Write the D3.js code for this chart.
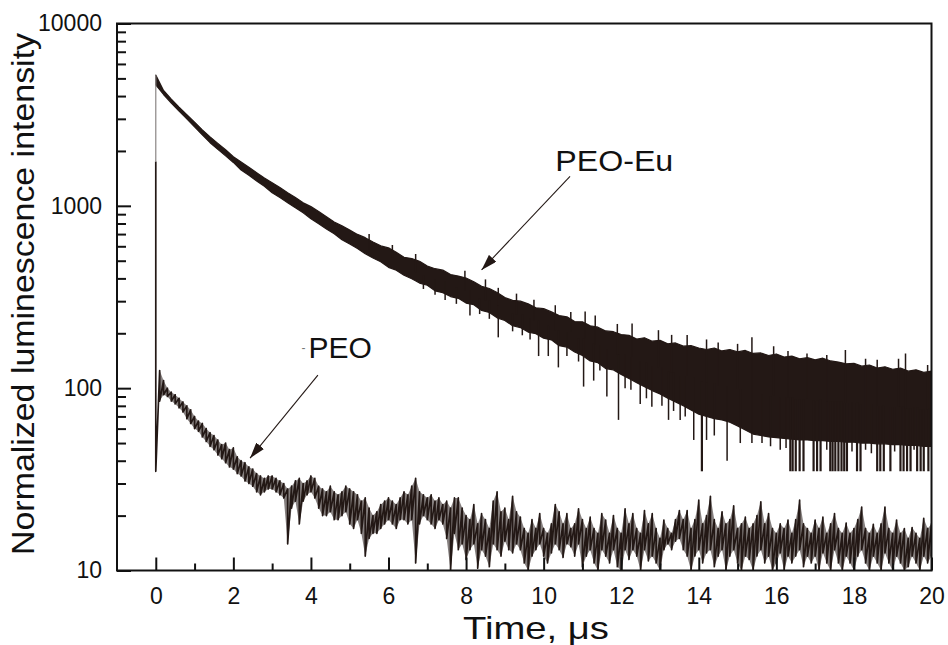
<!DOCTYPE html>
<html>
<head>
<meta charset="utf-8">
<script src="https://cdn.jsdelivr.net/npm/d3@7"></script>
<style>
  html, body { margin: 0; padding: 0; background: #fff; }
  svg { display: block; font-family: Arial, 'Liberation Sans', sans-serif; }
  .tick text { font-size: 23px; fill: #111; }
  .tick line { stroke: #111; stroke-width: 2; }
  .title { font-size: 32px; fill: #111; }
  .note { font-size: 30px; fill: #111; }
</style>
</head>
<body>
<svg id="chart" width="948" height="645"></svg>
<script>
'use strict';

// Time grid steps (µs) of the sampled envelopes below.
const EU_STEP = 0.2;
const PEO_STEP = 0.1;

// PEO-Eu decay: upper / lower edge of the dense trace, every 0.2 µs from 0 to 20.
const euHi = [
  5220, 4290, 3850, 3480, 3160, 2880, 2610, 2390, 2200, 2030,
  1860, 1740, 1630, 1520, 1420, 1340, 1260, 1180, 1110, 1040,
  990, 930, 870, 816, 777, 736, 697, 669, 634, 603,
  588, 556, 522, 514, 497, 468, 452, 444, 420, 412,
  402, 383, 362, 352, 335, 314, 303, 300, 290, 276,
  273, 262, 250, 246, 232, 231, 220, 216, 206, 204,
  197, 195, 186, 189, 181, 183, 175, 177, 170, 171,
  166, 163, 166, 160, 163, 158, 161, 155, 156, 151,
  154, 148, 150, 145, 147, 143, 146, 141, 139, 136,
  137, 132, 134, 129, 131, 127, 129, 124, 126, 122,
  124,
];
const euLo = [
  4600, 4080, 3660, 3310, 3000, 2710, 2450, 2220, 2040, 1880,
  1730, 1570, 1470, 1370, 1280, 1180, 1110, 1040, 977, 915,
  850, 797, 747, 702, 652, 617, 584, 546, 518, 493,
  460, 444, 416, 398, 377, 367, 342, 334, 318, 311,
  293, 287, 267, 260, 243, 235, 220, 215, 203, 199,
  188, 184, 171, 168, 158, 151, 141, 138, 128, 126,
  119, 113, 107, 102, 97, 93, 88, 84, 80, 76,
  72, 70, 68, 67, 65, 62, 59, 56, 55, 54,
  53.5, 53, 52.5, 52, 52, 51.5, 51.5, 51, 51, 50.5,
  50.5, 50, 50, 49.5, 49.5, 49, 49, 48.5, 48.5, 48,
  48,
];
// Single-sample dips and peaks sticking out of the PEO-Eu band: [t µs, value].
const euDips = [
  [6.9, 350], [7.2, 325], [7.46, 304], [7.75, 290], [8.1, 250], [8.35, 255],
  [8.6, 240], [8.83, 190], [9.2, 205], [9.45, 195], [9.65, 185], [9.87, 150],
  [10.12, 150], [10.38, 130], [10.6, 150], [10.9, 140], [11.03, 102], [11.29, 110],
  [11.45, 125], [11.63, 90], [11.93, 67], [12.1, 100], [12.25, 98], [12.49, 82],
  [12.65, 88], [12.79, 79], [13.05, 80], [13.22, 67], [13.35, 75], [13.52, 67],
  [13.65, 70], [13.87, 52], [14.08, 35], [14.2, 52], [14.4, 55], [14.73, 40],
  [15.07, 50], [15.37, 50], [15.63, 50], [15.85, 48], [16.1, 46], [16.25, 47],
  [16.36, 35], [16.42, 35], [16.5, 35], [16.6, 35], [16.7, 35], [16.96, 35],
  [17.05, 35], [17.14, 35], [17.3, 46], [17.39, 35], [17.45, 35], [17.52, 35],
  [17.6, 35], [17.68, 35], [17.75, 35], [17.82, 35], [17.95, 45], [18.08, 35],
  [18.17, 35], [18.3, 46], [18.45, 44], [18.6, 35], [18.68, 35], [18.77, 35],
  [18.94, 35], [19.05, 45], [19.2, 35], [19.28, 35], [19.37, 35], [19.46, 35],
  [19.55, 46], [19.63, 35], [19.72, 35], [19.8, 35], [19.92, 35],
];
const euPeaks = [
  [5.5, 700], [6.1, 610], [6.7, 545], [7.97, 440], [8.5, 395], [8.83, 355],
  [9.3, 330], [9.75, 305], [10.3, 285], [10.7, 262], [11.07, 263], [11.33, 250],
  [11.9, 225], [12.28, 226], [12.96, 208], [13.3, 196], [13.7, 196], [14.2, 185],
  [14.5, 178], [15.0, 175], [15.37, 190], [15.93, 170], [16.3, 160], [16.79, 155],
  [17.3, 152], [17.78, 162], [18.3, 145], [18.6, 143], [19.15, 145], [19.33, 155],
  [19.9, 134],
];
// Excitation pulse at t = 0 (thin grey line above the PEO spike).
const euPulse = [0, 1750, 5200];

// PEO decay: upper / lower value of the noisy trace, every 0.1 µs from 0 to 20.
const peoHi = [
  1750,
  125, 110, 100, 95, 92, 88, 84, 80, 76, 70,
  66, 64, 60, 57, 55, 52, 49, 50, 46, 47,
  42, 40, 39, 37, 36, 34, 33, 32, 33, 33,
  32, 31, 30, 28, 29, 31, 32, 30, 31, 33,
  32, 29, 28, 27, 29, 27, 26, 27, 29, 28,
  27, 26, 24, 25, 22, 20, 21, 23, 24, 25,
  24, 23, 25, 27, 26, 29, 32, 27, 26, 25,
  26, 24, 25, 23, 24, 22, 25, 25, 22, 20,
  19, 23, 18, 20.5, 19, 17, 24, 27, 21, 22,
  19, 25.5, 21, 19.6, 17, 16, 19, 17, 20.5, 17,
  16, 18, 23, 21, 18, 20.5, 17, 18, 21.8, 19,
  17, 19.6, 17, 16, 20.5, 18.9, 16, 20, 17, 16,
  21.8, 18, 20.5, 17, 16, 21.3, 18, 20.5, 17, 15,
  18.9, 17, 16, 19, 21.3, 19, 21.3, 17, 19, 24.3,
  18, 20, 25.5, 19, 17, 21, 18, 19, 22.6, 17,
  18, 19.6, 17, 18, 20, 23.8, 18, 20.5, 17, 16,
  18, 17, 18.9, 16, 19, 24.3, 18, 17, 16, 18.9,
  17, 19.6, 16, 18, 20.5, 17, 16, 18.2, 16, 17,
  19, 22.3, 17, 16, 17.9, 16, 18, 22.3, 17, 16,
  18.9, 16, 17, 15, 17.2, 16, 15, 19.3, 17, 18,
];
const peoLo = [
  35,
  85, 92, 90, 85, 82, 78, 74, 68, 64, 60,
  58, 54, 51, 48, 46, 43, 41, 39, 37, 36,
  34, 33, 31, 30, 29, 27, 26, 27, 28, 28,
  27, 26, 25, 14, 22, 24, 18, 24, 26, 27,
  25, 22, 20, 20, 21, 19, 19, 20, 21, 18,
  17, 19, 16, 12, 15, 16, 16, 17, 18, 19,
  18, 17, 19, 19, 18, 19, 11, 18, 20, 19,
  18, 17, 19, 18, 15, 10, 16, 13, 14, 11.5,
  13, 14, 10.3, 13, 12, 10.5, 14, 13, 12, 14.5,
  13, 12.5, 14, 13, 11, 10, 12, 13, 14, 12,
  11, 12.5, 14, 13, 11.8, 14, 13.5, 12, 14, 10.5,
  12, 13, 11, 10, 13, 12, 11, 13, 10.5, 10,
  13, 11.5, 13, 12, 10, 13, 11.3, 12, 11, 10,
  13, 14, 13, 14.5, 15, 13, 12, 10, 12, 13,
  11, 12.5, 13, 10.5, 12, 13, 10, 12, 13, 11,
  10, 12, 11.5, 10, 12, 13, 11, 12, 10, 11,
  12.5, 10, 12, 11, 12, 13, 10.5, 12, 11, 12,
  10, 12.5, 11, 10, 13, 11, 10, 12, 11, 10,
  12, 13, 11, 10, 12, 11, 10, 12.5, 11, 10,
  12, 11, 10, 10.5, 12, 11, 10, 12, 11, 12,
];

// Axis ticks and labels.
const xMajor = [0, 2, 4, 6, 8, 10, 12, 14, 16, 18, 20];
const xMinor = [1, 3, 5, 7, 9, 11, 13, 15, 17, 19];
const yMajor = [10, 100, 1000, 10000];
const yMinor = [
  20, 30, 40, 50, 60, 70, 80, 90,
  200, 300, 400, 500, 600, 700, 800, 900,
  2000, 3000, 4000, 5000, 6000, 7000, 8000, 9000,
];
const xTitle = 'Time, \u03bcs';
const yTitle = 'Normalized luminescence intensity';

// Annotations: label anchor and arrow (from, to), in data coordinates.
const euNote = { text: 'PEO-Eu', at: [10.3, 1560], arrow: [[10.68, 1450], [8.4, 445]] };
const peoNote = { text: 'PEO', at: [3.94, 146], arrow: [[4.18, 118], [2.43, 41.3]] };

const INK = '#231815';

const svg = d3.select('#chart');
const W = 948, H = 645;
const plot = { left: 117, right: 931.5, top: 23.5, bottom: 570.5 };

const x = d3.scaleLinear().domain([-1, 20]).range([plot.left, plot.right]);
const y = d3.scaleLog().domain([10, 10000]).range([plot.bottom, plot.top]);

svg.append('rect').attr('width', W).attr('height', H).attr('fill', '#fff');

svg.append('defs').append('clipPath').attr('id', 'plot-clip')
  .append('rect')
  .attr('x', plot.left).attr('y', plot.top)
  .attr('width', plot.right - plot.left).attr('height', plot.bottom - plot.top);

const traces = svg.append('g').attr('clip-path', 'url(#plot-clip)');

// ---- PEO trace: faint band under a zig-zag through hi/lo of each sample.
const peoBand = peoHi.map((v, i) => ({ t: i * PEO_STEP, hi: v, lo: peoLo[i] }));
traces.append('path')
  .attr('d', d3.area().x((d) => x(d.t)).y0((d) => y(d.lo)).y1((d) => y(d.hi))(peoBand.slice(1)))
  .attr('fill', INK)
  .attr('fill-opacity', 0.55);

const peoPts = [];
peoBand.forEach((d) => { peoPts.push([d.t, d.hi], [d.t, d.lo]); });
traces.append('path')
  .attr('d', d3.line().x((d) => x(d[0])).y((d) => y(d[1]))(peoPts))
  .attr('fill', 'none')
  .attr('stroke', INK)
  .attr('stroke-width', 1.7)
  .attr('stroke-linejoin', 'round');

// ---- PEO-Eu trace: filled band plus the stray samples.
const euBand = euHi.map((v, i) => ({ t: i * EU_STEP, hi: v, lo: euLo[i] }));
const bandArea = d3.area()
  .x((d) => x(d.t))
  .y0((d) => y(d.lo))
  .y1((d) => y(d.hi));
traces.append('path')
  .attr('d', bandArea(euBand))
  .attr('fill', INK)
  .attr('stroke', INK)
  .attr('stroke-width', 1.2)
  .attr('stroke-linejoin', 'round');

function bandMid(t) {
  const i = Math.min(euHi.length - 1, Math.round(t / EU_STEP));
  return Math.sqrt(euHi[i] * euLo[i]);
}

traces.append('g').selectAll('line')
  .data(euDips.concat(euPeaks))
  .join('line')
  .attr('x1', (d) => x(d[0])).attr('x2', (d) => x(d[0]))
  .attr('y1', (d) => y(bandMid(d[0])))
  .attr('y2', (d) => y(d[1]))
  .attr('stroke', INK)
  .attr('stroke-width', (d) => (d[1] <= 36 ? 2.2 : 1.5));

traces.append('line')
  .attr('x1', x(euPulse[0])).attr('x2', x(euPulse[0]))
  .attr('y1', y(euPulse[1])).attr('y2', y(euPulse[2]))
  .attr('stroke', '#8a8584')
  .attr('stroke-width', 1.2);

// ---- Axes: ticks point inward, labels outside.
const yAxis = svg.append('g')
  .attr('transform', `translate(${plot.left},0)`)
  .call(d3.axisLeft(y).tickValues(yMajor).tickSize(-14).tickPadding(15)
    .tickFormat(d3.format('d')));
yAxis.select('.domain').remove();
const yMinorAxis = svg.append('g')
  .attr('transform', `translate(${plot.left},0)`)
  .call(d3.axisLeft(y).tickValues(yMinor).tickSize(-9).tickFormat(''));
yMinorAxis.select('.domain').remove();

const xAxis = svg.append('g')
  .attr('transform', `translate(0,${plot.bottom})`)
  .call(d3.axisBottom(x).tickValues(xMajor).tickSize(-13).tickPadding(17)
    .tickFormat(d3.format('d')));
xAxis.select('.domain').remove();
const xMinorAxis = svg.append('g')
  .attr('transform', `translate(0,${plot.bottom})`)
  .call(d3.axisBottom(x).tickValues(xMinor).tickSize(-7).tickFormat(''));
xMinorAxis.select('.domain').remove();

svg.selectAll('.tick text').attr('font-family', null).attr('font-size', null);

// Frame round the plot.
svg.append('rect')
  .attr('x', plot.left).attr('y', plot.top)
  .attr('width', plot.right - plot.left).attr('height', plot.bottom - plot.top)
  .attr('fill', 'none')
  .attr('stroke', '#111')
  .attr('stroke-width', 2);

// Titles (the original lettering is a little stretched, hence textLength).
svg.append('text')
  .attr('class', 'title')
  .attr('x', 536)
  .attr('y', 639)
  .attr('text-anchor', 'middle')
  .attr('textLength', 146)
  .attr('lengthAdjust', 'spacingAndGlyphs')
  .text(xTitle);
svg.append('text')
  .attr('class', 'title')
  .attr('transform', 'translate(34,294) rotate(-90)')
  .attr('text-anchor', 'middle')
  .attr('textLength', 522)
  .attr('lengthAdjust', 'spacingAndGlyphs')
  .text(yTitle);

// ---- Annotations.
svg.append('defs').append('marker')
  .attr('id', 'arrow-head')
  .attr('viewBox', '0 0 16 10')
  .attr('refX', 16).attr('refY', 5)
  .attr('markerWidth', 16).attr('markerHeight', 10)
  .attr('markerUnits', 'userSpaceOnUse')
  .attr('orient', 'auto')
  .append('path')
  .attr('d', 'M0,0 L16,5 L0,10 Z')
  .attr('fill', INK);

[euNote, peoNote].forEach((note, k) => {
  const [a, b] = note.arrow;
  svg.append('line')
    .attr('x1', x(a[0])).attr('y1', y(a[1]))
    .attr('x2', x(b[0])).attr('y2', y(b[1]))
    .attr('stroke', INK)
    .attr('stroke-width', 1.1)
    .attr('marker-end', 'url(#arrow-head)');
  const label = svg.append('text')
    .attr('class', 'note')
    .attr('x', x(note.at[0]))
    .attr('y', y(note.at[1]))
    .text(note.text);
  if (k === 0) label.attr('textLength', 118).attr('lengthAdjust', 'spacingAndGlyphs');
});

// Small stray hyphen printed just before the "PEO" label.
svg.append('text')
  .attr('x', x(peoNote.at[0]) - 7)
  .attr('y', y(peoNote.at[1]) - 6)
  .attr('font-size', 12)
  .attr('fill', '#777')
  .text('-');
</script>
</body>
</html>
